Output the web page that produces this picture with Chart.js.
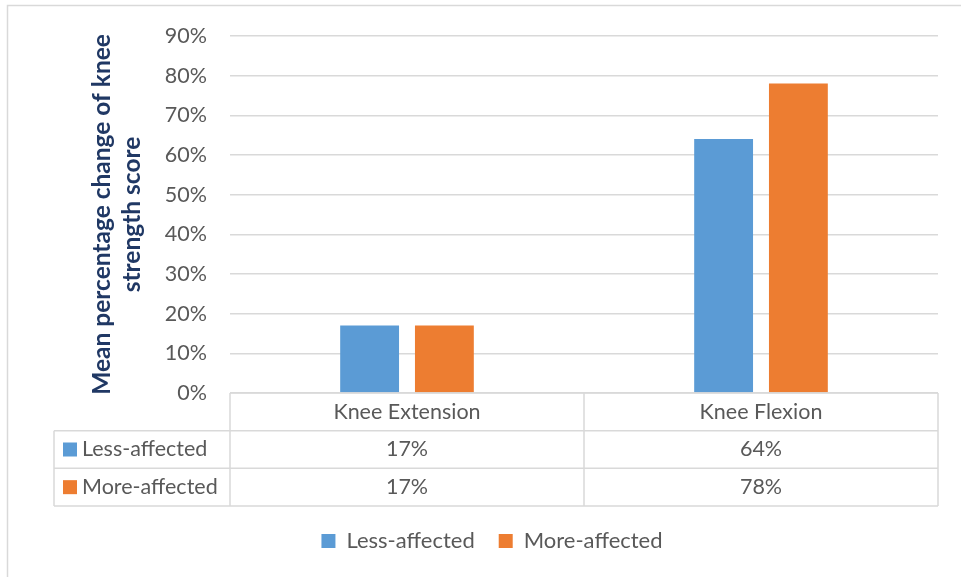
<!DOCTYPE html>
<html>
<head>
<meta charset="utf-8">
<script src="https://cdn.jsdelivr.net/npm/chart.js@4/dist/chart.umd.min.js"></script>
<style>
  html, body { margin: 0; padding: 0; background: #fff; overflow: hidden; }
  canvas { display: block; }
</style>
</head>
<body>
<canvas id="chart" width="961" height="577"></canvas>
<script>
// Categories, series and axis labels
const categories = ['Knee Extension', 'Knee Flexion'];
const seriesNames = ['Less-affected', 'More-affected'];
const lessAffected = [0.17, 0.64];
const moreAffected = [0.17, 0.78];
const yTickValues = [0, 0.1, 0.2, 0.3, 0.4, 0.5, 0.6, 0.7, 0.8, 0.9];
const yTitleLines = ['Mean percentage change of knee', 'strength score'];

const seriesColors = ['#5B9BD5', '#ED7D31'];
const textColor = '#595959';
const lineColor = '#D9D9D9';
const fontFamily = 'Lato, "Open Sans", sans-serif';
const fontSize = 21.5;

const pct = v => Math.round(v * 100) + '%';

// White page with the light frame around the chart
const frame = {
  id: 'frame',
  beforeDraw(chart) {
    const { ctx, width, height } = chart;
    ctx.save();
    ctx.fillStyle = '#fff';
    ctx.fillRect(0, 0, width, height);
    ctx.strokeStyle = lineColor;
    ctx.lineWidth = 1.5;
    ctx.beginPath();
    ctx.moveTo(7.5, height);
    ctx.lineTo(7.5, 5.5);
    ctx.lineTo(width, 5.5);
    ctx.stroke();
    ctx.restore();
  }
};

// Data table under the plot, laid out on the category scale
const labelColWidth = 176;
const dataTable = {
  id: 'dataTable',
  afterDraw(chart) {
    const { ctx } = chart;
    const x = chart.scales.x;
    const n = chart.data.labels.length;
    const catW = (x.right - x.left) / n;
    const rows = 1 + chart.data.datasets.length;
    const rowH = (x.bottom - x.top) / rows;
    const tableLeft = x.left - labelColWidth;

    ctx.save();
    ctx.strokeStyle = lineColor;
    ctx.lineWidth = 1.5;
    ctx.beginPath();
    // horizontal rules
    ctx.moveTo(x.left, x.top); ctx.lineTo(x.right, x.top);
    for (let r = 1; r <= rows; r++) {
      const y = x.top + r * rowH;
      ctx.moveTo(tableLeft, y); ctx.lineTo(x.right, y);
    }
    // vertical rules
    ctx.moveTo(tableLeft, x.top + rowH); ctx.lineTo(tableLeft, x.bottom);
    for (let i = 0; i <= n; i++) {
      const xx = x.left + i * catW;
      ctx.moveTo(xx, x.top); ctx.lineTo(xx, x.bottom);
    }
    ctx.stroke();

    ctx.font = fontSize + 'px ' + fontFamily;
    ctx.fillStyle = textColor;
    ctx.textBaseline = 'middle';
    ctx.textAlign = 'center';
    chart.data.labels.forEach((lab, i) => {
      ctx.fillText(lab, x.getPixelForValue(i), x.top + rowH / 2);
    });
    chart.data.datasets.forEach((ds, d) => {
      const yc = x.top + (d + 1.5) * rowH;
      ds.data.forEach((v, i) => {
        ctx.textAlign = 'center';
        ctx.fillStyle = textColor;
        ctx.fillText(pct(v), x.getPixelForValue(i), yc);
      });
      ctx.fillStyle = ds.backgroundColor;
      ctx.fillRect(tableLeft + 9, yc - 7, 14, 14);
      ctx.fillStyle = textColor;
      ctx.textAlign = 'left';
      ctx.fillText(ds.label, tableLeft + 28, yc);
    });
    ctx.restore();
  }
};

new Chart(document.getElementById('chart'), {
  type: 'bar',
  data: {
    labels: categories,
    datasets: [
      { label: seriesNames[0], data: lessAffected, backgroundColor: seriesColors[0], borderWidth: 0 },
      { label: seriesNames[1], data: moreAffected, backgroundColor: seriesColors[1], borderWidth: 0 }
    ]
  },
  options: {
    responsive: false,
    animation: false,
    events: [],
    datasets: { bar: { barPercentage: 0.787, categoryPercentage: 0.4225 } },
    layout: { padding: { left: 46, right: 23, top: 35, bottom: 15 } },
    scales: {
      x: {
        ticks: { display: false },
        grid: { display: false },
        border: { display: false },
        afterFit(s) { s.height = 113; }
      },
      y: {
        min: 0,
        max: 0.9,
        afterBuildTicks(s) { s.ticks = yTickValues.map(v => ({ value: v })); },
        ticks: {
          callback: v => pct(v),
          color: textColor,
          padding: 23,
          font: { family: fontFamily, size: fontSize }
        },
        grid: { color: lineColor, lineWidth: 1.5, drawTicks: false },
        border: { display: false },
        title: {
          display: true,
          text: yTitleLines,
          color: '#203864',
          padding: { top: 41, bottom: 0 },
          font: { family: fontFamily, size: 24.5, weight: 'bold', lineHeight: 30 / 24.5 }
        },
        afterFit(s) { s.width = 230 - 46; }
      }
    },
    plugins: {
      legend: {
        position: 'bottom',
        labels: {
          boxWidth: 14,
          boxHeight: 14,
          padding: 24,
          color: textColor,
          font: { family: fontFamily, size: 22 }
        }
      },
      tooltip: { enabled: false }
    }
  },
  plugins: [frame, dataTable]
});
</script>
</body>
</html>
